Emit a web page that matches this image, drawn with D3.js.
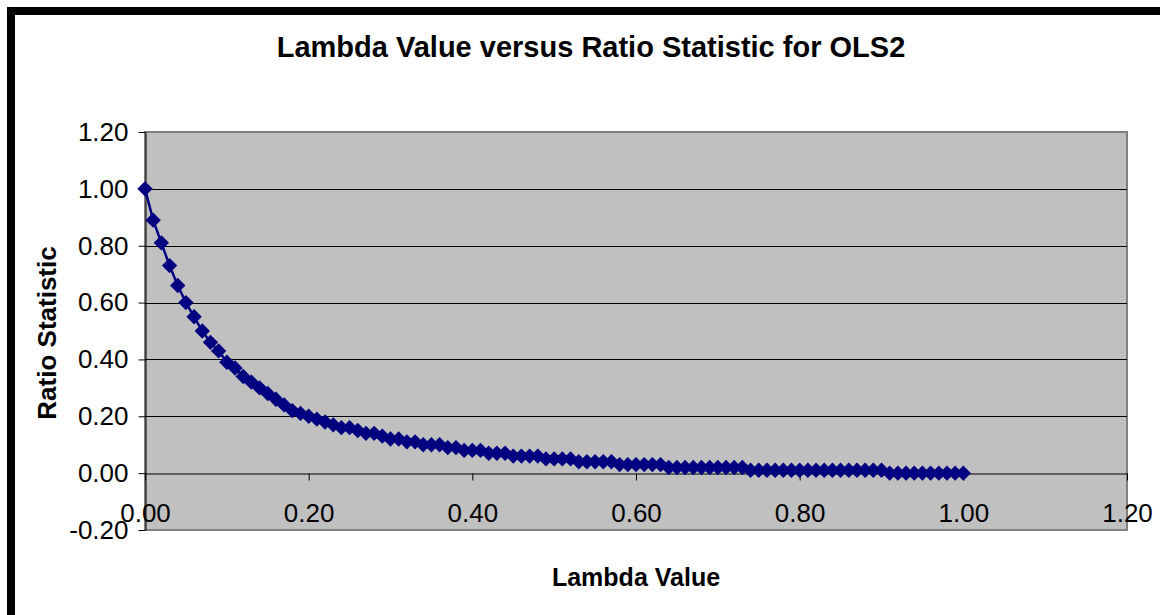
<!DOCTYPE html>
<html>
<head>
<meta charset="utf-8">
<script src="https://cdn.jsdelivr.net/npm/d3@7"></script>
<style>
  html, body { margin: 0; padding: 0; background: #ffffff; }
  svg { display: block; }
  text { font-family: "Liberation Sans", Arial, sans-serif; fill: #000; }
</style>
</head>
<body>
<svg id="chart" width="1160" height="615"></svg>
<script>
// Lambda values (x) and the ratio statistic at each one (y)
const lambdaValues = [
  0.00, 0.01, 0.02, 0.03, 0.04, 0.05, 0.06, 0.07, 0.08, 0.09,
  0.10, 0.11, 0.12, 0.13, 0.14, 0.15, 0.16, 0.17, 0.18, 0.19,
  0.20, 0.21, 0.22, 0.23, 0.24, 0.25, 0.26, 0.27, 0.28, 0.29,
  0.30, 0.31, 0.32, 0.33, 0.34, 0.35, 0.36, 0.37, 0.38, 0.39,
  0.40, 0.41, 0.42, 0.43, 0.44, 0.45, 0.46, 0.47, 0.48, 0.49,
  0.50, 0.51, 0.52, 0.53, 0.54, 0.55, 0.56, 0.57, 0.58, 0.59,
  0.60, 0.61, 0.62, 0.63, 0.64, 0.65, 0.66, 0.67, 0.68, 0.69,
  0.70, 0.71, 0.72, 0.73, 0.74, 0.75, 0.76, 0.77, 0.78, 0.79,
  0.80, 0.81, 0.82, 0.83, 0.84, 0.85, 0.86, 0.87, 0.88, 0.89,
  0.90, 0.91, 0.92, 0.93, 0.94, 0.95, 0.96, 0.97, 0.98, 0.99,
  1.00
];
const ratioStatistic = [
  1.00, 0.89, 0.81, 0.73, 0.66, 0.60, 0.55, 0.50, 0.46, 0.43,
  0.39, 0.37, 0.34, 0.32, 0.30, 0.28, 0.26, 0.24, 0.22, 0.21,
  0.20, 0.19, 0.18, 0.17, 0.16, 0.16, 0.15, 0.14, 0.14, 0.13,
  0.12, 0.12, 0.11, 0.11, 0.10, 0.10, 0.10, 0.09, 0.09, 0.08,
  0.08, 0.08, 0.07, 0.07, 0.07, 0.06, 0.06, 0.06, 0.06, 0.05,
  0.05, 0.05, 0.05, 0.04, 0.04, 0.04, 0.04, 0.04, 0.03, 0.03,
  0.03, 0.03, 0.03, 0.03, 0.02, 0.02, 0.02, 0.02, 0.02, 0.02,
  0.02, 0.02, 0.02, 0.02, 0.01, 0.01, 0.01, 0.01, 0.01, 0.01,
  0.01, 0.01, 0.01, 0.01, 0.01, 0.01, 0.01, 0.01, 0.01, 0.01,
  0.01, 0.00, 0.00, 0.00, 0.00, 0.00, 0.00, 0.00, 0.00, 0.00,
  0.00
];
const xTicks = [0.00, 0.20, 0.40, 0.60, 0.80, 1.00, 1.20];
const yTicks = [-0.20, 0.00, 0.20, 0.40, 0.60, 0.80, 1.00, 1.20];
const gridValues = [0.20, 0.40, 0.60, 0.80, 1.00];

const chartTitle = "Lambda Value versus Ratio Statistic for OLS2";
const xTitle = "Lambda Value";
const yTitle = "Ratio Statistic";

const points = lambdaValues.map((l, i) => ({ x: l, y: ratioStatistic[i] }));

const svg = d3.select("#chart");
const plot = { left: 145, right: 1127, top: 132, bottom: 530 };

const x = d3.scaleLinear().domain([0, 1.2]).range([plot.left, plot.right]);
const y = d3.scaleLinear().domain([-0.2, 1.2]).range([plot.bottom, plot.top]);

// outer frame of the chart sheet
svg.append("rect")
  .attr("x", 11).attr("y", 11)
  .attr("width", 1300).attr("height", 800)
  .attr("fill", "none")
  .attr("stroke", "#000").attr("stroke-width", 8);

// plot area
svg.append("rect")
  .attr("x", plot.left).attr("y", plot.top)
  .attr("width", plot.right - plot.left)
  .attr("height", plot.bottom - plot.top)
  .attr("fill", "#c0c0c0")
  .attr("stroke", "#808080").attr("stroke-width", 2);

// horizontal gridlines
svg.append("g")
  .selectAll("line")
  .data(gridValues)
  .join("line")
  .attr("x1", plot.left).attr("x2", plot.right)
  .attr("y1", d => Math.round(y(d)) + 0.5).attr("y2", d => Math.round(y(d)) + 0.5)
  .attr("stroke", "#000").attr("stroke-width", 1);

// two decimals, plain hyphen for negatives
const fmt = d => d3.format(".2f")(d).replace("\u2212", "-");

// y axis
const yAxis = svg.append("g")
  .attr("transform", `translate(${plot.left + 0.5},0)`)
  .call(d3.axisLeft(y).tickValues(yTicks).tickFormat(fmt)
    .tickSize(7).tickSizeOuter(0).tickPadding(10));
yAxis.select(".domain").attr("stroke", "#000");
yAxis.selectAll(".tick line").attr("stroke", "#000");
yAxis.selectAll("text")
  .attr("font-size", 26)
  .attr("font-family", "'Liberation Sans', Arial, sans-serif")
  .attr("fill", "#000");

// x axis, crossing at zero
const xAxis = svg.append("g")
  .attr("transform", `translate(0,${Math.round(y(0)) + 0.5})`)
  .call(d3.axisBottom(x).tickValues(xTicks).tickFormat(fmt)
    .tickSize(7).tickSizeOuter(0).tickPadding(23));
xAxis.select(".domain").attr("stroke", "#000");
xAxis.selectAll(".tick line").attr("stroke", "#000");
xAxis.selectAll("text")
  .attr("font-size", 26)
  .attr("font-family", "'Liberation Sans', Arial, sans-serif")
  .attr("fill", "#000");

// series line
svg.append("path")
  .datum(points)
  .attr("fill", "none")
  .attr("stroke", "#000080")
  .attr("stroke-width", 2.5)
  .attr("d", d3.line().x(d => x(d.x)).y(d => y(d.y)));

// diamond markers
const diamond = d3.symbol().type(d3.symbolSquare).size(118);
svg.append("g")
  .selectAll("path")
  .data(points)
  .join("path")
  .attr("d", diamond)
  .attr("transform", d => `translate(${x(d.x)},${y(d.y)}) rotate(45)`)
  .attr("fill", "#000080");

// titles
svg.append("text")
  .attr("x", 591).attr("y", 57)
  .attr("text-anchor", "middle")
  .attr("font-size", 29).attr("font-weight", "bold")
  .text(chartTitle);

svg.append("text")
  .attr("x", (plot.left + plot.right) / 2).attr("y", 586)
  .attr("text-anchor", "middle")
  .attr("font-size", 25).attr("font-weight", "bold")
  .text(xTitle);

svg.append("text")
  .attr("transform", `translate(56,${(plot.top + plot.bottom) / 2 + 2}) rotate(-90)`)
  .attr("text-anchor", "middle")
  .attr("font-size", 26).attr("font-weight", "bold")
  .text(yTitle);
</script>
</body>
</html>
